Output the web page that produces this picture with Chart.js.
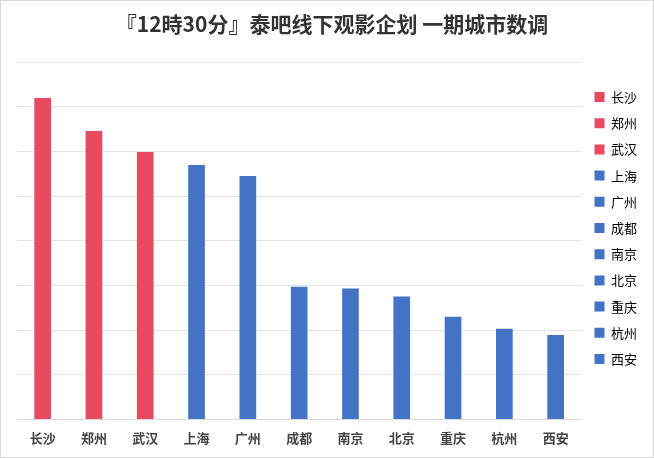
<!DOCTYPE html>
<html><head><meta charset="utf-8">
<script src="https://cdn.jsdelivr.net/npm/chart.js@4"></script>
<style>html,body{margin:0;padding:0;background:#fff}#w{position:absolute;left:0;top:0;width:652px;height:456px;border:1px solid #d9d9d9}</style>
</head><body><div id="w"><canvas id="c"></canvas></div>
<script>
const categories=['长沙','郑州','武汉','上海','广州','成都','南京','北京','重庆','杭州','西安'];
const values=[7.2,6.46,5.99,5.7,5.45,2.97,2.93,2.75,2.3,2.03,1.89];
const groups=['r','r','r','b','b','b','b','b','b','b','b'];
const palette={r:'#E84A5F',b:'#4472C4'};
const colors=groups.map(g=>palette[g]);
new Chart(document.getElementById('c'),{
type:'bar',
data:{labels:categories,datasets:[{data:values,backgroundColor:colors,barPercentage:0.65,categoryPercentage:0.5}]},
options:{responsive:true,maintainAspectRatio:false,animation:false,
layout:{padding:{left:16,right:6,top:6,bottom:8}},
plugins:{
title:{display:true,text:'『12時30分』泰吧线下观影企划 一期城市数调',color:'#333',font:{size:21,weight:'bold',family:'Noto Sans CJK SC'},padding:{top:4,bottom:26}},
legend:{position:'right',labels:{boxWidth:10,boxHeight:10,padding:13.2,color:'#555',font:{size:13,family:'Noto Sans CJK SC'},
generateLabels:()=>categories.map((c,i)=>({text:c,fillStyle:colors[i],strokeStyle:colors[i],lineWidth:0,index:i}))}},
tooltip:{enabled:false}},
scales:{
x:{grid:{display:false},border:{color:'#d9d9d9'},ticks:{color:'#444',font:{size:13,weight:'bold',family:'Noto Sans CJK SC'}}},
y:{min:0,max:8,ticks:{display:false,stepSize:1},grid:{color:'#e3e3e3',drawTicks:false},border:{display:false}}}}
});
</script></body></html>
